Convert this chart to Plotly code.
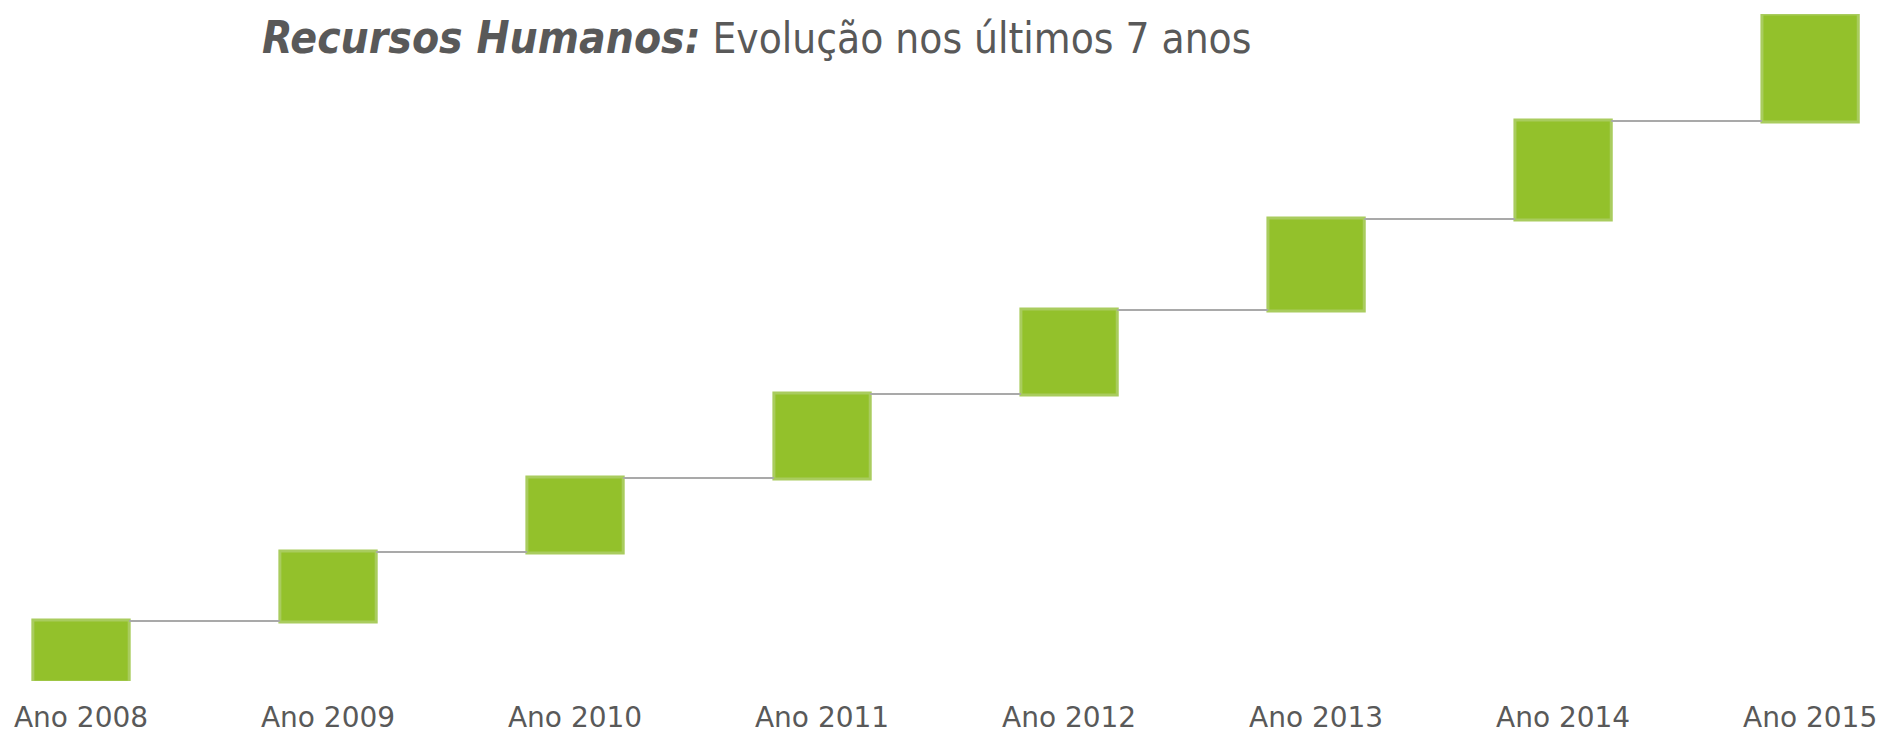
import plotly.graph_objects as go

categories = ["Ano 2008", "Ano 2009", "Ano 2010", "Ano 2011", "Ano 2012", "Ano 2013", "Ano 2014", "Ano 2015"]
increments = [60, 69, 74, 84, 84, 91, 98, 106]
positions = list(range(len(categories)))

fig = go.Figure(go.Waterfall(
    x=positions,
    y=increments,
    measure=["relative"] * len(increments),
    base=0,
    width=0.39,
    increasing=dict(marker=dict(color="#93c12b", line=dict(color="#a9cc5e", width=3))),
    connector=dict(mode="between", line=dict(color="#a9a9a9", width=2)),
    hoverinfo="x+y",
))

fig.update_layout(
    width=1881, height=734,
    margin=dict(l=0, r=0, t=14, b=53),
    paper_bgcolor="white", plot_bgcolor="white",
    showlegend=False,
    title=dict(
        text='<span style="font-size:44px"><b><i>Recursos Humanos:</i></b></span> Evolução nos últimos 7 anos',
        font=dict(family="DejaVu Sans Condensed", size=42, color="#595959"),
        x=262 / 1881, xanchor="left", xref="container",
        y=1 - 38 / 734, yanchor="middle", yref="container",
    ),
    xaxis=dict(
        range=[-0.328, 7.287],
        tickvals=positions, ticktext=categories,
        tickfont=dict(family="DejaVu Sans", size=28, color="#595959"),
        showgrid=False, zeroline=False, showline=False, ticks="",
        ticklabelstandoff=17, automargin=False,
    ),
    yaxis=dict(range=[0, 667], visible=False, showgrid=False, zeroline=False),
)

fig.write_html(
    "out.html",
    config={"displayModeBar": False},
    post_script="document.body.style.margin='0';document.body.style.padding='0';",
)
